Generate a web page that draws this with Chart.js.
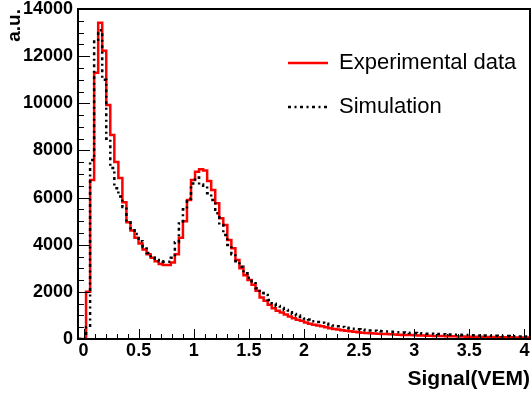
<!DOCTYPE html>
<html>
<head>
<meta charset="utf-8">
<script src="https://cdn.jsdelivr.net/npm/chart.js@4.4.1/dist/chart.umd.min.js"></script>
<style>
html,body{margin:0;padding:0;background:#fff;}
canvas{display:block;}
</style>
</head>
<body>
<canvas id="c" width="532" height="394"></canvas>
<script>
// ---- data ----
const seriesNames = ['Experimental data', 'Simulation'];
const histLow = -0.05;
const histHigh = 4.05;
const nBins = 112;
const experimental = [
  0, 0, 2000, 6750, 11300, 13420, 12230, 9930, 8650, 7510,
  6830, 5800, 4950, 4600, 4300, 4050, 3800, 3600, 3450, 3300,
  3180, 3140, 3140, 3250, 3600, 4300, 5000, 5900, 6750, 7100,
  7200, 7150, 6700, 6320, 5760, 5120, 4840, 4200, 3850, 3350,
  3000, 2700, 2500, 2300, 2050, 1760, 1620, 1450, 1300, 1200,
  1120, 1040, 950, 880, 820, 770, 700, 650, 600, 570,
  540, 500, 460, 420, 400, 370, 355, 325, 310, 290,
  270, 255, 245, 235, 225, 215, 210, 200, 190, 182,
  175, 170, 165, 160, 152, 148, 142, 138, 132, 128,
  124, 120, 115, 112, 108, 105, 100, 98, 95, 92,
  88, 86, 84, 80, 78, 75, 73, 70, 68, 66,
  64, 62
];
const simulation = [
  0, 0, 500, 7590, 12700, 13100, 11000, 8500, 7250, 6400,
  6050, 5600, 4950, 4700, 4450, 4150, 3900, 3650, 3450, 3350,
  3300, 3280, 3280, 3450, 4100, 4900, 5500, 5950, 6600, 6850,
  6550, 6500, 6180, 5900, 5330, 4840, 4410, 3990, 3600, 3300,
  3070, 2790, 2600, 2450, 2150, 1950, 1870, 1650, 1500, 1400,
  1320, 1230, 1140, 1060, 1000, 940, 870, 830, 750, 720,
  690, 650, 610, 570, 540, 510, 480, 455, 430, 410,
  390, 375, 360, 345, 335, 325, 315, 305, 295, 285,
  275, 265, 258, 250, 240, 235, 228, 222, 215, 208,
  202, 196, 190, 184, 178, 172, 166, 160, 156, 150,
  146, 142, 138, 134, 130, 126, 122, 118, 114, 110,
  108, 105
];
const xTickValues = [0, 0.5, 1, 1.5, 2, 2.5, 3, 3.5, 4];
const yTickValues = [0, 2000, 4000, 6000, 8000, 10000, 12000, 14000];
const xAxisTitle = 'Signal(VEM)';
const yAxisTitle = 'a.u.';

// ---- build histogram step points (bin edges) ----
const binWidth = (histHigh - histLow) / nBins;
function histPoints(vals) {
  const pts = vals.map((v, i) => ({x: histLow + i * binWidth, y: v}));
  pts.push({x: histLow + vals.length * binWidth, y: vals[vals.length - 1]});
  return pts;
}

const FONT = "'Liberation Sans', Arial, Helvetica, sans-serif";

const rootFrame = {
  id: 'rootFrame',
  afterLayout(chart) {
    const lg = chart.legend;
    if (lg) { lg.left = 266; lg.top = 30; }
  },
  afterDatasetsDraw(chart) {
    const {ctx, chartArea: a, scales} = chart;
    const xs = scales.x, ys = scales.y;
    ctx.save();
    ctx.strokeStyle = '#000';
    ctx.lineWidth = 1;
    ctx.setLineDash([]);
    ctx.beginPath();
    // x ticks (inside)
    for (let k = 0; k <= 40; k++) {
      const v = k * 0.1;
      const px = Math.round(xs.getPixelForValue(v)) + 0.5;
      const major = k % 5 === 0;
      ctx.moveTo(px, a.bottom);
      ctx.lineTo(px, a.bottom - (major ? 10 : 5));
    }
    // y ticks (inside)
    for (let k = 0; k <= 28; k++) {
      const v = k * 500;
      const py = Math.round(ys.getPixelForValue(v)) + 0.5;
      const major = k % 4 === 0;
      ctx.moveTo(a.left, py);
      ctx.lineTo(a.left + (major ? 12 : 6), py);
    }
    ctx.stroke();
    ctx.lineWidth = 2;
    ctx.strokeRect(a.left, a.top, a.right - a.left, a.bottom - a.top);
    ctx.restore();
  }
};

new Chart(document.getElementById('c'), {
  type: 'line',
  data: {
    datasets: [
      {
        label: seriesNames[0],
        data: histPoints(experimental),
        borderColor: '#ff0000',
        backgroundColor: 'rgba(0,0,0,0)',
        borderWidth: 2.5,
        stepped: 'before',
        pointRadius: 0,
        pointStyle: 'line',
        tension: 0,
        order: 1
      },
      {
        label: seriesNames[1],
        data: histPoints(simulation),
        borderColor: '#000000',
        backgroundColor: 'rgba(0,0,0,0)',
        borderWidth: 2.5,
        borderDash: [3, 3.5, 2, 3.5],
        stepped: 'before',
        pointRadius: 0,
        pointStyle: 'line',
        tension: 0,
        order: 0
      }
    ]
  },
  options: {
    responsive: false,
    animation: false,
    devicePixelRatio: 1,
    layout: {padding: {left: 0, top: 9, right: 2, bottom: 0}},
    plugins: {
      tooltip: {enabled: false},
      legend: {
        position: 'chartArea',
        align: 'start',
        labels: {
          usePointStyle: true,
          pointStyle: 'line',
          pointStyleWidth: 40,
          boxWidth: 40,
          boxHeight: 12,
          padding: 22,
          color: '#000',
          font: {family: FONT, size: 22},
          sort: (a, b) => a.datasetIndex - b.datasetIndex,
          generateLabels: (chart) => {
            const items = Chart.defaults.plugins.legend.labels.generateLabels(chart);
            items.forEach(it => {
              const ds = chart.data.datasets[it.datasetIndex];
              it.lineDash = ds.borderDash || [];
              it.lineWidth = ds.borderWidth;
              it.strokeStyle = ds.borderColor;
              it.lineCap = 'butt';
            });
            return items;
          }
        }
      }
    },
    scales: {
      x: {
        type: 'linear',
        min: histLow,
        max: histHigh,
        grid: {display: false, drawTicks: false},
        border: {display: false},
        afterBuildTicks: (s) => { s.ticks = xTickValues.map(v => ({value: v})); },
        afterFit: (s) => { s.height = 55; s.paddingLeft = 0; s.paddingRight = 0; },
        ticks: {
          autoSkip: false,
          maxRotation: 0,
          padding: 1,
          color: '#000',
          font: {family: FONT, size: 18, weight: 'bold'},
          callback: (v) => String(v)
        },
        title: {
          display: true,
          text: xAxisTitle,
          align: 'end',
          color: '#000',
          font: {family: FONT, size: 21, weight: 'bold'},
          padding: {top: 0, bottom: 2}
        }
      },
      y: {
        type: 'linear',
        min: 0,
        max: 14000,
        grid: {display: false, drawTicks: false},
        border: {display: false},
        afterBuildTicks: (s) => { s.ticks = yTickValues.map(v => ({value: v})); },
        afterFit: (s) => { s.width = 78; s.paddingTop = 0; s.paddingBottom = 0; },
        ticks: {
          autoSkip: false,
          padding: 5,
          color: '#000',
          font: {family: FONT, size: 18, weight: 'bold'},
          callback: (v) => String(v)
        },
        title: {
          display: true,
          text: yAxisTitle,
          align: 'end',
          color: '#000',
          font: {family: FONT, size: 19, weight: 'bold'},
          padding: {top: 3, bottom: 0}
        }
      }
    }
  },
  plugins: [rootFrame]
});
</script>
</body>
</html>
